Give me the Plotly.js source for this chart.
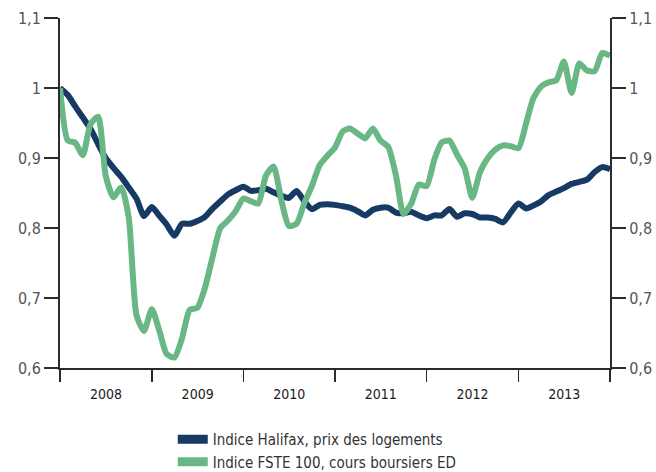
<!DOCTYPE html>
<html>
<head>
<meta charset="utf-8">
<script src="https://cdn.plot.ly/plotly-3.0.1.min.js"></script>
<style>html,body{margin:0;padding:0;background:#fff;}#chart{width:656px;height:472px;}</style>
</head>
<body>
<div id="chart"></div>
<script>
// Months Jan 2008 .. Jan 2014
const startYear = 2008;
const halifaxName = "Indice Halifax, prix des logements";
const ftseName = "Indice FSTE 100, cours boursiers ED";
const yearLabels = ["2008","2009","2010","2011","2012","2013"];

const halifax = [
  1.000,0.990,0.974,0.958,0.942,0.920,0.900,0.886,0.873,0.858,0.842,0.817,
  0.830,0.817,0.805,0.789,0.806,0.806,0.810,0.816,0.828,0.838,0.848,0.854,
  0.859,0.853,0.854,0.856,0.851,0.846,0.843,0.853,0.838,0.827,0.833,0.834,
  0.833,0.831,0.829,0.824,0.818,0.826,0.829,0.829,0.822,0.821,0.823,0.818,
  0.814,0.818,0.818,0.827,0.816,0.821,0.820,0.815,0.815,0.813,0.808,0.822,
  0.835,0.828,0.832,0.838,0.847,0.852,0.857,0.863,0.866,0.869,0.880,0.887,
  0.884
];
const ftse = [
  1.000,0.925,0.922,0.904,0.948,0.959,0.875,0.844,0.858,0.815,0.675,0.653,
  0.684,0.652,0.620,0.615,0.642,0.683,0.686,0.715,0.760,0.800,0.811,0.824,
  0.842,0.838,0.835,0.875,0.888,0.840,0.803,0.806,0.836,0.860,0.890,0.903,
  0.915,0.938,0.942,0.935,0.928,0.942,0.925,0.916,0.875,0.820,0.835,0.862,
  0.860,0.898,0.922,0.925,0.905,0.885,0.843,0.880,0.900,0.912,0.918,0.917,
  0.914,0.950,0.985,1.002,1.008,1.011,1.038,0.993,1.035,1.025,1.024,1.050,
  1.046
];

const dates = halifax.map((_, i) => {
  const y = startYear + Math.floor(i / 12);
  const m = (i % 12) + 1;
  return y + "-" + String(m).padStart(2, "0") + "-01";
});

const navy = "#163a63";
const green = "#69b784";
const fontMain = "'DejaVu Sans Condensed', 'Liberation Sans Narrow', 'Liberation Sans', sans-serif";

const traces = [
  {x: dates, y: halifax, type: "scatter", mode: "lines", showlegend: false,
   line: {color: navy, width: 6, shape: "spline", smoothing: 0.6}, hoverinfo: "skip"},
  {x: dates, y: ftse, type: "scatter", mode: "lines", showlegend: false,
   line: {color: green, width: 6, shape: "spline", smoothing: 0.6}, hoverinfo: "skip"},
  {x: [null], y: [null], type: "scatter", mode: "lines", name: halifaxName,
   line: {color: navy, width: 9}},
  {x: [null], y: [null], type: "scatter", mode: "lines", name: ftseName,
   line: {color: green, width: 9}}
];

const yCommon = {
  range: [0.6, 1.1], dtick: 0.1, tick0: 0.6,
  showgrid: false, zeroline: false,
  showline: true, linecolor: "#2b2b2b", linewidth: 2,
  ticks: "outside", ticklen: 14, tickwidth: 1.5, tickcolor: "#2b2b2b",
  tickfont: {family: fontMain, size: 16, color: "#555"},
  fixedrange: true
};

const layout = {
  width: 656, height: 472,
  margin: {l: 60, r: 46, t: 18, b: 104, autoexpand: false},
  paper_bgcolor: "#fff", plot_bgcolor: "#fff",
  separators: ", ",
  showlegend: true,
  xaxis: {
    type: "date",
    range: [startYear + "-01-01", (startYear + yearLabels.length) + "-01-01"],
    tick0: startYear + "-01-01", dtick: "M12",
    ticklabelmode: "period", tickformat: "%Y",
    showgrid: false, zeroline: false,
    showline: true, linecolor: "#2b2b2b", linewidth: 2,
    ticks: "outside", ticklen: 12, tickwidth: 1.5, tickcolor: "#2b2b2b",
    tickfont: {family: fontMain, size: 14, color: "#1a1a1a"},
    fixedrange: true
  },
  yaxis: Object.assign({}, yCommon, {side: "left"}),
  yaxis2: Object.assign({}, yCommon, {side: "right", overlaying: "y"}),
  legend: {
    x: 0.205, xanchor: "left", y: -0.157, yanchor: "top",
    font: {family: fontMain, size: 15, color: "#333"},
    bgcolor: "rgba(0,0,0,0)", tracegroupgap: 0, itemwidth: 30
  }
};

// ensure right axis is drawn by attaching an invisible trace
traces.push({x: [dates[0]], y: [0.6], yaxis: "y2", type: "scatter", mode: "markers",
  marker: {opacity: 0}, showlegend: false, hoverinfo: "skip"});

Plotly.newPlot("chart", traces, layout, {staticPlot: true, displayModeBar: false});
</script>
</body>
</html>
